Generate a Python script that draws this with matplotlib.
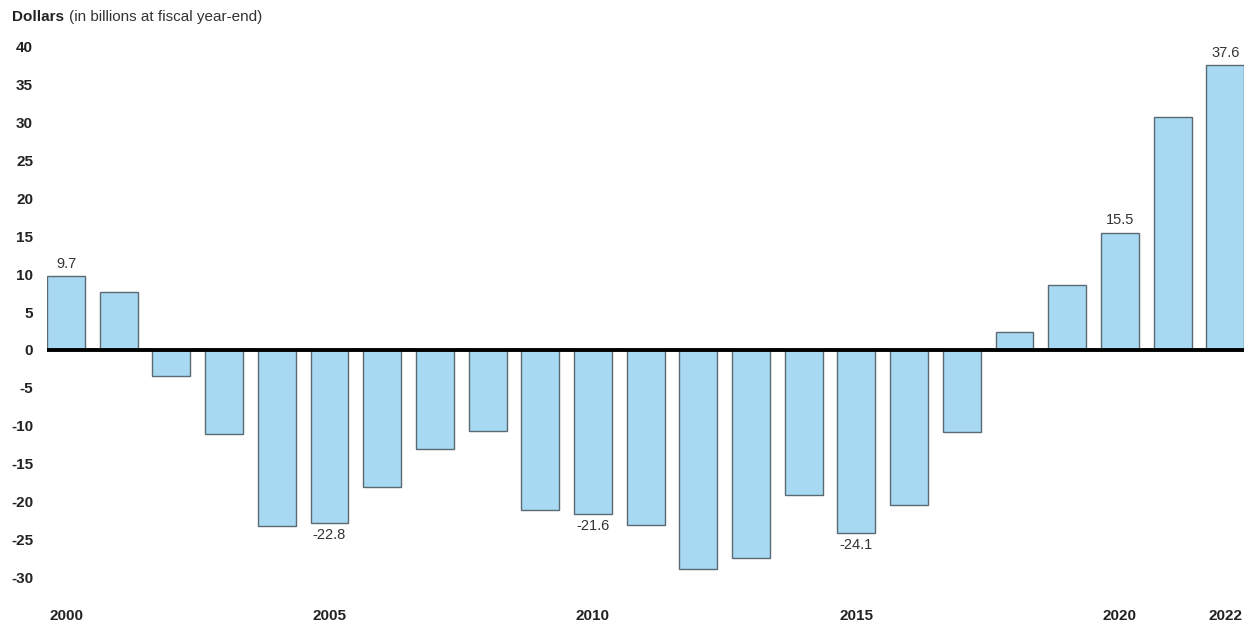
import numpy as np
import matplotlib.pyplot as plt

plt.rcParams['font.family'] = ['Liberation Sans', 'DejaVu Sans']

years = list(range(2000, 2023))
values = [9.7, 7.7, -3.5, -11.1, -23.2, -22.8, -18.1, -13.1, -10.7, -21.1, -21.6,
          -23.1, -28.9, -27.4, -19.2, -24.1, -20.5, -10.8, 2.4, 8.6, 15.5, 30.8, 37.6]
labeled_years = [2000, 2005, 2010, 2015, 2020, 2022]
tick_years = [2000, 2005, 2010, 2015, 2020, 2022]
y_ticks = [40, 35, 30, 25, 20, 15, 10, 5, 0, -5, -10, -15, -20, -25, -30]

fig = plt.figure(figsize=(12.51, 6.28), dpi=100)
ax = fig.add_axes([0.0376, 0.0567, 0.957, 0.8927])

x = np.arange(len(years))
ax.bar(x, values, width=0.72, color='#A8D9F3', edgecolor='#5a6a72', linewidth=1.0, zorder=2)
ax.axhline(0, color='black', linewidth=2.8, zorder=3)

for i, (yr, v) in enumerate(zip(years, values)):
    if yr in labeled_years:
        if v >= 0:
            ax.annotate(f"{v:.1f}", (i, v), xytext=(0, 4), textcoords='offset points',
                        ha='center', va='bottom', fontsize=10.5, color='#333333')
        else:
            ax.annotate(f"{v:.1f}", (i, v), xytext=(0, -4), textcoords='offset points',
                        ha='center', va='top', fontsize=10.5, color='#333333')

ax.set_xlim(-0.36, len(years) - 1 + 0.36)
ax.set_ylim(-32, 42)
ax.set_yticks(y_ticks)
ax.set_yticklabels([str(t) for t in y_ticks], fontweight='bold', fontsize=11, color='#222222')
ax.set_xticks([years.index(t) for t in tick_years])
ax.set_xticklabels([str(t) for t in tick_years], fontweight='bold', fontsize=11, color='#222222')
ax.tick_params(axis='y', length=0, pad=10)
ax.tick_params(axis='x', length=0, pad=12)
for s in ax.spines.values():
    s.set_visible(False)

fig.text(0.0096, 0.973, "Dollars", fontweight='bold', fontsize=11, color='#222222', va='center')
fig.text(0.0096 + 0.0455, 0.973, "(in billions at fiscal year-end)", fontsize=11,
         color='#333333', va='center')

fig.savefig('out.png', dpi=100)
